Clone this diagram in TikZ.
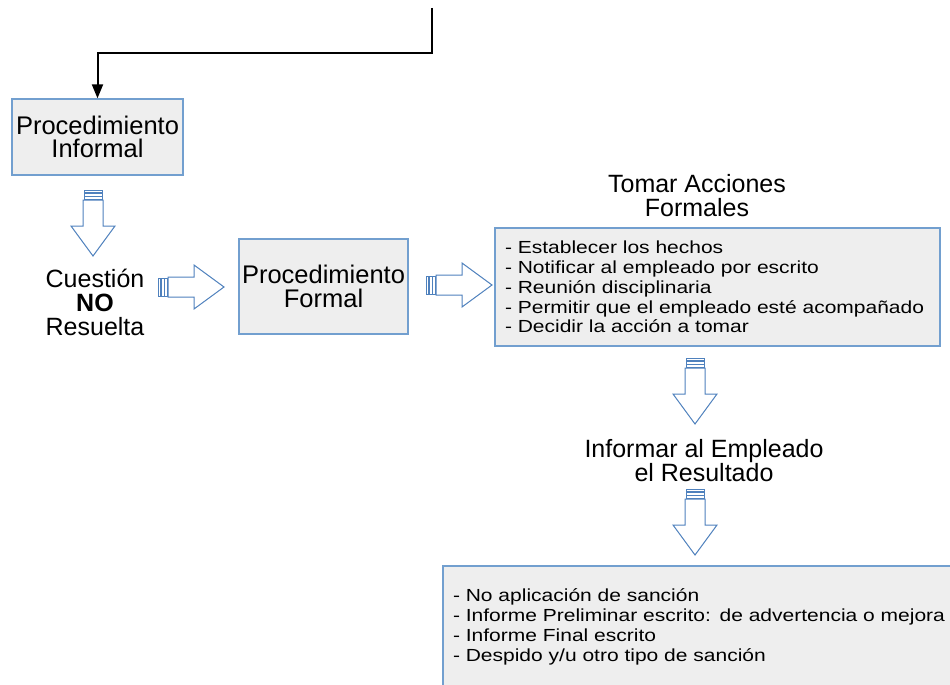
\documentclass[tikz,border=0pt]{standalone}
\usepackage{fontspec}
\setmainfont{Liberation Sans}
\newfontfamily\listfont{Liberation Sans}[FakeStretch=1.2]
\usepackage{tikz}
\usetikzlibrary{arrows.meta, positioning}
\definecolor{boxfill}{RGB}{238,238,238}
\definecolor{boxline}{RGB}{114,159,207}
\definecolor{arrline}{RGB}{79,129,189}
\tikzset{
  procbox/.style={draw=boxline, fill=boxfill, line width=1.3pt, align=center, inner sep=0pt, font=\fontsize{25.5}{23.5}\selectfont},
  listbox/.style={draw=boxline, fill=boxfill, line width=1.3pt, align=left, inner xsep=10pt, inner ysep=0pt, font=\listfont\fontsize{17.5}{19.8}\selectfont},
  plaintext/.style={align=center, font=\fontsize{25}{24}\selectfont},
  blockarrow/.pic={
    \draw[arrline, fill=white, line width=1pt] (10,-10) -- (36,-10) -- (36,-22) -- (66,0) -- (36,22) -- (36,10) -- (10,10) -- cycle;
    \foreach \s in {0,3.4,6.8}
      \draw[arrline, fill=white, line width=0.8pt] (\s,-9) rectangle ++(2.6,18);
  }
}

\begin{document}
\begin{tikzpicture}[x=1pt, y=-1pt]
\useasboundingbox (0,0) rectangle (950,685);

% entrada desde arriba
\coordinate (entry) at (432,8);
\node[procbox, minimum width=171, minimum height=76] (informal) at (97.5,137) {Procedimiento\\Informal};
\draw[line width=2pt, -{Triangle[length=14pt, width=11pt]}] (entry) -- (432,53) -| (informal.north);

\node[plaintext] (cuestion) at (95,302) {Cuesti\'on\\\textbf{NO}\\Resuelta};
\node[procbox, minimum width=169, minimum height=95] (formal) at (323.5,286.5) {Procedimiento\\Formal};

\node[plaintext] (tomar) at (697,196) {Tomar Acciones\\Formales};
\node[listbox, text width=425, minimum height=118] (acciones) at (717.5,287) {%
- Establecer los hechos\\
- Notificar al empleado por escrito\\
- Reuni\'on disciplinaria\\
- Permitir que el empleado est\'e acompa\~nado\\
- Decidir la acci\'on a tomar};

\node[plaintext] (informar) at (704,461) {Informar al Empleado\\el Resultado};
\node[listbox, text width=540, minimum height=122] (resultado) at (723,627) {%
- No aplicaci\'on de sanci\'on\\
- Informe Preliminar escrito: de advertencia o mejora\\
- Informe Final escrito\\
- Despido y/u otro tipo de sanci\'on};

% flechas de bloque
\pic[rotate=-90] at (93,190) {blockarrow};
\pic at (158,287) {blockarrow};
\pic at (426,285) {blockarrow};
\pic[rotate=-90] at (695,358) {blockarrow};
\pic[rotate=-90] at (695,489) {blockarrow};
\end{tikzpicture}
\end{document}
